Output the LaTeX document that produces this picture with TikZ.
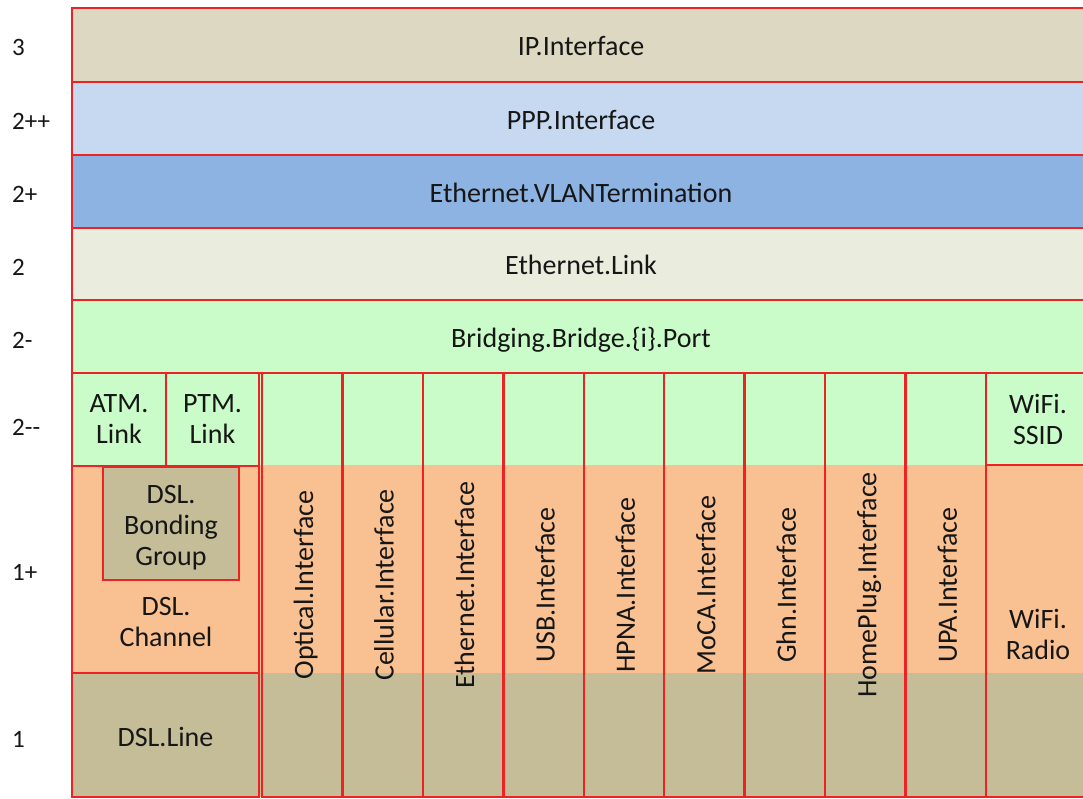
\documentclass[tikz,border=0pt]{standalone}
\usepackage{fontspec}
\setmainfont{Carlito}
\definecolor{boxred}{RGB}{238,34,34}
\definecolor{txtc}{RGB}{22,22,22}
\definecolor{ipc}{RGB}{221,216,194}
\definecolor{pppc}{RGB}{198,217,240}
\definecolor{vlanc}{RGB}{141,179,226}
\definecolor{linkc}{RGB}{234,237,222}
\definecolor{greenc}{RGB}{202,252,202}
\definecolor{orangec}{RGB}{249,192,146}
\definecolor{tanc}{RGB}{196,189,151}
\newcommand\mainsz{\fontsize{28}{31}\selectfont}
\newcommand\lvlsz{\fontsize{25}{28}\selectfont}
\begin{document}
\begin{tikzpicture}[x=1pt,y=-1pt,
  box/.style={draw=boxred, line width=2.4pt, inner sep=0pt, align=center, text=txtc, font=\mainsz},
  oneline/.style={text height=24pt, text depth=2pt},
  band/.style={box, oneline, minimum width=1018pt},
  col/.style={box, oneline, rotate=90, minimum width=424pt, minimum height=80.44pt},
  txtnode/.style={inner sep=0pt, align=center, text=txtc, font=\mainsz},
  lvl/.style={inner sep=0pt, anchor=west, text=txtc, font=\lvlsz}]
\fill[white] (0,0) rectangle (1083,799);
\clip (0,0) rectangle (1083,799);
% background bands of the lower part
\fill[greenc] (72,373) rectangle (1090,465);
\fill[orangec] (72,465) rectangle (1090,673);
\fill[tanc] (72,673) rectangle (1090,797);
% upper bands
\node[band, fill=ipc, minimum height=74pt] (ip) at (581,45) {IP.Interface};
\node[band, fill=pppc, minimum height=73pt] (ppp) at (581,118.5) {PPP.Interface};
\node[band, fill=vlanc, minimum height=73pt] (vlan) at (581,191.5) {Ethernet.VLANTermination};
\node[band, fill=linkc, minimum height=72pt] (elink) at (581,264) {Ethernet.Link};
\node[band, fill=greenc, minimum height=73pt] (bridge) at (581,336.5) {Bridging.Bridge.\{i\}.Port};
% DSL stack
\node[box, fill=greenc, minimum width=94pt, minimum height=93pt] (atm) at (119,419.5) {ATM.\\Link};
\node[box, fill=greenc, minimum width=93pt, minimum height=93pt] (ptm) at (212.5,419.5) {PTM.\\Link};
\node[box, fill=orangec, minimum width=187pt, minimum height=207pt] (chan) at (165.5,569.5) {};
\node[txtnode] (chantext) at (166,622) {DSL.\\Channel};
\node[box, fill=tanc, minimum width=136pt, minimum height=113pt] (bond) at (171,523.5) {};
\node[txtnode] (bondtext) at (171,528) {DSL.\\Bonding\\Group};
\node[box, oneline, fill=tanc, minimum width=187pt, minimum height=124pt] (line) at (165.5,735) {DSL.Line};
% interface columns
\foreach \i/\n/\t in {0/opt/Optical.Interface, 1/cell/Cellular.Interface, 2/eth/Ethernet.Interface,
  3/usb/USB.Interface, 4/hpna/HPNA.Interface, 5/moca/MoCA.Interface, 6/ghn/Ghn.Interface,
  7/hplug/HomePlug.Interface, 8/upa/UPA.Interface}
  \node[col] (\n) at ({302.22+80.44*\i},585) {\t};
% WiFi
\node[box, minimum width=104pt, minimum height=92pt] (ssid) at (1038,419) {WiFi.\\SSID};
\node[box, minimum width=104pt, minimum height=332pt] (radio) at (1038,631) {};
\node[txtnode] (radiotext) at (1038,634) {WiFi.\\Radio};
% level labels
\node[lvl] (l3) at (12,47) {3};
\node[lvl] (l2pp) at (12,121) {2++};
\node[lvl] (l2p) at (12,194) {2+};
\node[lvl] (l2) at (12,267) {2};
\node[lvl] (l2m) at (12,340) {2-};
\node[lvl] (l2mm) at (12,427) {2-{}-};
\node[lvl] (l1p) at (12,572) {1+};
\node[lvl] (l1) at (12,739) {1};
\end{tikzpicture}
\end{document}
